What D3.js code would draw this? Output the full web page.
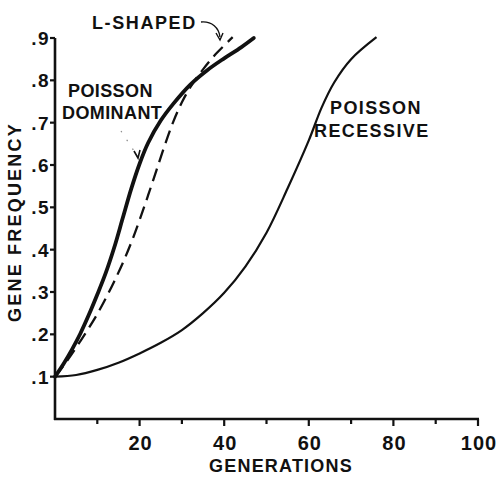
<!DOCTYPE html>
<html>
<head>
<meta charset="utf-8">
<script src="https://cdn.jsdelivr.net/npm/d3@7"></script>
<style>
  html, body { margin: 0; padding: 0; background: #fff; }
  svg text { font-family: "Liberation Sans", Arial, sans-serif; font-weight: bold; fill: #111; }
</style>
</head>
<body>
<svg id="chart" width="502" height="481"></svg>
<script>
// Gene frequency over generations for three selection models
const xTicks = [10, 20, 30, 40, 50, 60, 70, 80, 90, 100];
const xTickLabels = ["20", "40", "60", "80", "100"];
const yTicks = [0.1, 0.2, 0.3, 0.4, 0.5, 0.6, 0.7, 0.8, 0.9];
const yTickLabels = [".1", ".2", ".3", ".4", ".5", ".6", ".7", ".8", ".9"];

const dominantGen  = [0, 2, 4, 6, 8, 10, 12, 14, 16, 18, 20, 22, 25, 28, 32, 36, 40, 44, 47];
const dominantFreq = [0.10, 0.13, 0.164, 0.202, 0.246, 0.294, 0.345, 0.405, 0.474, 0.543, 0.603, 0.652, 0.705, 0.745, 0.79, 0.824, 0.852, 0.878, 0.90];

const lShapedGen  = [0, 2, 4, 6, 8, 10, 12, 14, 16, 18, 20, 22, 24, 26, 28, 30, 32, 35, 38, 42];
const lShapedFreq = [0.10, 0.126, 0.154, 0.184, 0.215, 0.248, 0.285, 0.325, 0.368, 0.416, 0.47, 0.528, 0.588, 0.648, 0.703, 0.748, 0.784, 0.826, 0.862, 0.902];

const recessiveGen  = [0, 5, 10, 15, 20, 25, 30, 35, 40, 45, 50, 55, 60, 63, 66, 70, 76];
const recessiveFreq = [0.10, 0.104, 0.116, 0.133, 0.155, 0.18, 0.21, 0.25, 0.298, 0.36, 0.44, 0.545, 0.658, 0.735, 0.795, 0.85, 0.902];

const svg = d3.select("#chart");
const x = d3.scaleLinear().domain([0, 100]).range([55, 478]);
const y = d3.scaleLinear().domain([0, 0.9]).range([419, 38]);

// axes
svg.append("line").attr("x1", x(0)).attr("x2", x(0)).attr("y1", y(0) + 1).attr("y2", y(0.9))
  .attr("stroke", "#111").attr("stroke-width", 2.6);
svg.append("line").attr("x1", x(0) - 1).attr("x2", x(100) + 1).attr("y1", y(0)).attr("y2", y(0))
  .attr("stroke", "#111").attr("stroke-width", 2.6);

svg.selectAll(".ytick").data(yTicks).enter().append("line")
  .attr("x1", x(0) - 5).attr("x2", x(0)).attr("y1", d => y(d)).attr("y2", d => y(d))
  .attr("stroke", "#111").attr("stroke-width", 2.2);
svg.selectAll(".ylab").data(yTicks).enter().append("text")
  .attr("x", x(0) - 5).attr("y", d => y(d) + 7)
  .attr("text-anchor", "end").attr("font-size", 19).attr("letter-spacing", 1.5)
  .text((d, i) => yTickLabels[i]);

svg.selectAll(".xtick").data(xTicks).enter().append("line")
  .attr("x1", d => x(d)).attr("x2", d => x(d)).attr("y1", y(0))
  .attr("y2", d => y(0) + (d % 20 === 0 ? 7 : 5))
  .attr("stroke", "#111").attr("stroke-width", 2.2);
svg.selectAll(".xlab").data(xTicks.filter(d => d % 20 === 0)).enter().append("text")
  .attr("x", d => x(d) + 1).attr("y", 450)
  .attr("text-anchor", "middle").attr("font-size", 20).attr("letter-spacing", 1)
  .text((d, i) => xTickLabels[i]);

// axis titles
svg.append("text").attr("x", 281).attr("y", 472).attr("text-anchor", "middle")
  .attr("font-size", 18).attr("letter-spacing", 1.2).text("GENERATIONS");
svg.append("text").attr("transform", "translate(21,222) rotate(-90)")
  .attr("text-anchor", "middle").attr("font-size", 18).attr("letter-spacing", 2.2)
  .text("GENE FREQUENCY");

// curves
const line = d3.line().x(d => x(d[0])).y(d => y(d[1])).curve(d3.curveCatmullRom.alpha(0.5));
const zip = (a, b) => a.map((v, i) => [v, b[i]]);

svg.append("path").attr("d", line(zip(recessiveGen, recessiveFreq)))
  .attr("fill", "none").attr("stroke", "#111").attr("stroke-width", 2.2);
svg.append("path").attr("d", line(zip(lShapedGen, lShapedFreq)))
  .attr("fill", "none").attr("stroke", "#111").attr("stroke-width", 2.3)
  .attr("stroke-dasharray", "13,7");
svg.append("path").attr("d", line(zip(dominantGen, dominantFreq)))
  .attr("fill", "none").attr("stroke", "#111").attr("stroke-width", 3.8)
  .attr("stroke-linecap", "round");

// curve labels
const label = (lines, xs, ys, ls) => lines.forEach((t, i) =>
  svg.append("text").attr("x", xs[i]).attr("y", ys[i]).attr("font-size", 18)
    .attr("letter-spacing", ls).text(t));
label(["L-SHAPED"], [92], [29], 1.6);
label(["POISSON", "DOMINANT"], [68, 62], [97, 119], 0.4);
label(["POISSON", "RECESSIVE"], [330, 314], [114, 137], 1.4);

// pointer from the L-SHAPED label
svg.append("path").attr("d", "M201,22 C212,21 219,28 220,37")
  .attr("fill", "none").attr("stroke", "#111").attr("stroke-width", 1.4);
svg.append("path").attr("d", "M216,33 L220,40 L223,33")
  .attr("fill", "none").attr("stroke", "#111").attr("stroke-width", 1.4);

// faint dotted pointer from the POISSON DOMINANT label
svg.append("path").attr("d", "M121,131 L136,154")
  .attr("fill", "none").attr("stroke", "#888").attr("stroke-width", 1.2)
  .attr("stroke-dasharray", "1.5,9");
svg.append("path").attr("d", "M134,151 L138,158 L140,150")
  .attr("fill", "none").attr("stroke", "#111").attr("stroke-width", 1.6);
</script>
</body>
</html>
